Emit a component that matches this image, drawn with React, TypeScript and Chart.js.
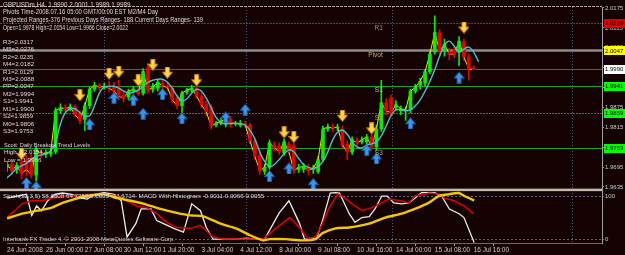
import React, { useEffect, useRef } from 'react';
import { Chart, registerables } from 'chart.js';

Chart.register(...registerables);

// ---------------- data ----------------
const opens = [
  1.9694, 1.9703, 1.9688, 1.9712, 1.9718, 1.9724, 1.9671, 1.9741, 1.9733, 1.9735,
  1.9741, 1.9865, 1.9874, 1.9871, 1.9877, 1.9856, 1.9839, 1.9880, 1.9930, 1.9942,
  1.9936, 1.9939, 1.9936, 1.9930, 1.9912, 1.9906, 1.9924, 1.9930, 1.9918, 1.9995,
  1.9930, 1.9933, 1.9948, 1.9939, 1.9933, 1.9903, 1.9880, 1.9921, 1.9927, 1.9933,
  1.9909, 1.9886, 1.9877, 1.9822, 1.9827, 1.9825, 1.9839, 1.9825, 1.9822, 1.9827,
  1.9822, 1.9774, 1.9730, 1.9682, 1.9694, 1.9762, 1.9759, 1.9738, 1.9765, 1.9759,
  1.9688, 1.9688, 1.9694, 1.9688, 1.9682, 1.9718, 1.9810, 1.9816, 1.9813, 1.9810,
  1.9765, 1.9741, 1.9774, 1.9771, 1.9771, 1.9786, 1.9756, 1.9810, 1.9889, 1.9903,
  1.9874, 1.9865, 1.9865, 1.9868, 1.9924, 1.9942, 1.9948, 1.9983, 2.0042, 2.0101,
  2.0054, 2.0042, 2.0048, 2.0042, 2.0072, 2.0027, 1.9990,
];
const highs = [
  1.9712, 1.9712, 1.9709, 1.9727, 1.9730, 1.9735, 1.9756, 1.9750, 1.9747, 1.9750,
  1.9874, 1.9886, 1.9883, 1.9886, 1.9883, 1.9865, 1.9889, 1.9936, 1.9951, 1.9948,
  1.9948, 1.9954, 1.9951, 1.9957, 1.9924, 1.9930, 1.9939, 1.9936, 1.9992, 2.0007,
  1.9948, 1.9960, 1.9957, 1.9948, 1.9942, 1.9912, 1.9924, 1.9933, 1.9942, 1.9939,
  1.9918, 1.9895, 1.9883, 1.9833, 1.9842, 1.9848, 1.9848, 1.9833, 1.9836, 1.9833,
  1.9827, 1.9783, 1.9741, 1.9703, 1.9777, 1.9771, 1.9768, 1.9780, 1.9771, 1.9768,
  1.9703, 1.9706, 1.9703, 1.9700, 1.9727, 1.9819, 1.9825, 1.9825, 1.9825, 1.9819,
  1.9774, 1.9786, 1.9783, 1.9786, 1.9794, 1.9794, 1.9822, 1.9957, 1.9901, 1.9912,
  1.9895, 1.9880, 1.9877, 1.9930, 1.9945, 1.9963, 1.9989, 2.0045, 2.0151, 2.0110,
  2.0081, 2.0054, 2.0060, 2.0089, 2.0081, 2.0036, 2.0001,
];
const lows = [
  1.9682, 1.9673, 1.9676, 1.9659, 1.9668, 1.9662, 1.9653, 1.9724, 1.9724, 1.9727,
  1.9735, 1.9856, 1.9862, 1.9865, 1.9848, 1.9825, 1.9806, 1.9871, 1.9924, 1.9927,
  1.9930, 1.9924, 1.9915, 1.9898, 1.9892, 1.9898, 1.9918, 1.9912, 1.9912, 1.9918,
  1.9921, 1.9924, 1.9930, 1.9927, 1.9889, 1.9871, 1.9859, 1.9915, 1.9921, 1.9903,
  1.9874, 1.9850, 1.9810, 1.9816, 1.9822, 1.9816, 1.9816, 1.9819, 1.9816, 1.9816,
  1.9765, 1.9718, 1.9673, 1.9673, 1.9688, 1.9744, 1.9733, 1.9730, 1.9735, 1.9676,
  1.9679, 1.9679, 1.9673, 1.9676, 1.9676, 1.9712, 1.9803, 1.9803, 1.9806, 1.9753,
  1.9718, 1.9733, 1.9759, 1.9765, 1.9762, 1.9750, 1.9747, 1.9803, 1.9853, 1.9850,
  1.9865, 1.9853, 1.9836, 1.9859, 1.9918, 1.9930, 1.9939, 1.9977, 2.0036, 2.0036,
  2.0030, 2.0019, 2.0025, 2.0001, 2.0016, 1.9957, 1.9989,
];
const closes = [
  1.9703, 1.9685, 1.9700, 1.9676, 1.9688, 1.9671, 1.9750, 1.9733, 1.9738, 1.9741,
  1.9865, 1.9874, 1.9871, 1.9877, 1.9853, 1.9836, 1.9880, 1.9930, 1.9942, 1.9936,
  1.9939, 1.9933, 1.9924, 1.9909, 1.9903, 1.9924, 1.9930, 1.9918, 1.9983, 1.9927,
  1.9936, 1.9951, 1.9939, 1.9936, 1.9898, 1.9880, 1.9918, 1.9927, 1.9933, 1.9909,
  1.9883, 1.9862, 1.9819, 1.9827, 1.9833, 1.9839, 1.9825, 1.9827, 1.9827, 1.9822,
  1.9774, 1.9727, 1.9685, 1.9694, 1.9768, 1.9753, 1.9741, 1.9771, 1.9741, 1.9685,
  1.9694, 1.9697, 1.9685, 1.9691, 1.9718, 1.9810, 1.9816, 1.9813, 1.9816, 1.9762,
  1.9741, 1.9777, 1.9768, 1.9777, 1.9786, 1.9756, 1.9810, 1.9889, 1.9865, 1.9859,
  1.9883, 1.9871, 1.9868, 1.9924, 1.9936, 1.9954, 1.9983, 2.0036, 2.0101, 2.0045,
  2.0066, 2.0036, 2.0036, 2.0075, 2.0027, 1.9992, 1.9989,
];

const timeLabelBars = [0, 8, 16, 24, 32, 40, 48, 56, 64, 72, 80, 88, 96];
const timeLabels = [
  '24 Jun 2008', '26 Jun 00:00', '27 Jun 08:00', '30 Jun 12:00', '1 Jul 20:00', '3 Jul 04:00',
  '4 Jul 12:00', '8 Jul 00:00', '9 Jul 08:00', '10 Jul 16:00', '14 Jul 00:00', '15 Jul 08:00', '16 Jul 16:00',
];
const gridBars = [20, 49.2, 79.2, 116.3];

const priceTicks = [2.0175, 2.0115, 2.0055, 1.9995, 1.9935, 1.9875, 1.9815, 1.9755, 1.9695, 1.9635];
const oscTicks = [0, 100];

const cyanBars = [
  0, 1, 2, 4, 5, 6, 8, 9, 10, 11, 12, 13, 14, 15, 16, 17, 18, 19, 20, 22, 23, 24, 25, 26, 27, 28, 29,
  30, 31, 32, 33, 34, 35, 36, 37, 38, 39, 40, 41, 42, 43, 44, 45, 46, 47, 48, 49, 50, 51, 52, 53,
  54, 55, 56, 57, 58, 59, 60, 61, 62, 63, 64, 65, 66, 67, 68, 69, 70, 71, 72, 73, 74, 75, 76, 77,
  78, 79, 80, 81, 82, 83, 84, 85, 86, 87, 88, 89, 90, 91, 92, 93, 94, 95, 96, 97,
];
const cyanValues = [
  1.9662, 1.9676, 1.9691, 1.9706, 1.9718, 1.9727, 1.9735, 1.9744, 1.9771, 1.9825, 1.9859, 1.9871,
  1.9871, 1.9859, 1.9850, 1.9850, 1.9880, 1.9918, 1.9936, 1.9939, 1.9933, 1.9924, 1.9918, 1.9921,
  1.9927, 1.9939, 1.9951, 1.9957, 1.9960, 1.9960, 1.9951, 1.9933, 1.9909, 1.9895, 1.9901, 1.9918,
  1.9930, 1.9924, 1.9903, 1.9874, 1.9845, 1.9830, 1.9825, 1.9827, 1.9827, 1.9825, 1.9822, 1.9806,
  1.9780, 1.9741, 1.9712, 1.9697, 1.9703, 1.9718, 1.9735, 1.9747, 1.9741, 1.9721, 1.9703, 1.9694,
  1.9691, 1.9697, 1.9712, 1.9741, 1.9777, 1.9800, 1.9806, 1.9794, 1.9771, 1.9756, 1.9753, 1.9762,
  1.9765, 1.9771, 1.9789, 1.9819, 1.9850, 1.9868, 1.9868, 1.9865, 1.9868, 1.9880, 1.9898, 1.9924,
  1.9954, 1.9989, 2.0030, 2.0063, 2.0075, 2.0060, 2.0042, 2.0051, 2.0057, 2.0042, 2.0013,
];

const downArrowBars = [3, 15, 21, 23, 27, 30, 33, 39, 57, 59, 69, 75, 94];
const downArrowValues = [
  1.9735, 1.9912, 1.9977, 1.9983, 1.9957, 2.0004, 1.9980, 1.9957, 1.9800, 1.9786, 1.9850, 1.9812, 2.0116,
];
const upArrowBars = [4, 6, 17, 22, 26, 28, 32, 36, 45, 49, 54, 58, 63, 74, 76, 83, 93];
const upArrowValues = [
  1.9647, 1.9635, 1.9824, 1.9904, 1.9898, 1.9856, 1.9915, 1.9842, 1.9845, 1.9868, 1.9668, 1.9691,
  1.9644, 1.9747, 1.9721, 1.9827, 1.9965,
];

const levelValues = [2.0129, 2.0047, 1.999, 1.9941, 1.9859, 1.9753];
const levelNames = ['R1', 'Pivot', '', 'S1', 'S2', 'S3'];

const whiteBars = [
  0, 4, 5.1, 6.1, 7.1, 8.4, 9.8, 11.4, 13.3, 15.3, 16.5, 18, 20, 22, 23.5, 24.7, 26.5, 27.6, 29.6,
  30.8, 32.2, 34.3, 36.3, 38, 39.8, 41, 42.4, 44.5, 47.1, 49.2, 51.2, 53, 56, 58, 60.2, 61.2, 62.9,
  63.9, 64.9, 66.5, 67.6, 68.4, 70.4, 71.6, 73, 74.5, 75.7, 77.1, 78.2, 79.6, 81.2, 82.7, 83.9, 85.3,
  88, 89.4, 91, 93, 94, 96.1,
];
const whiteValues = [
  95, 104, 55, 77, 66, 89, 104, 107, 104, 95, 93, 104, 108, 104, 89, 5, 36, 70, 70, 43, 36, 25, 16,
  82, 66, 27, 0, 0, 0, 2, 0, 0, 61, 89, 36, 0, 0, 9, 43, 107, 108, 107, 59, 39, 50, 52, 70, 100, 100,
  84, 82, 84, 95, 108, 108, 100, 70, 59, 50, -8,
];
const redBars = [
  0, 1.6, 3.1, 5.1, 7.1, 9.2, 11.8, 14.5, 17.3, 20, 22.7, 24.7, 26.7, 28.8, 30.8, 32.9, 34.9, 37.8,
  39.8, 41, 42.4, 44.5, 47.1, 50.6, 52.7, 55.3, 58.2, 60.2, 61.8, 63.5, 64.9, 66.3, 68, 69, 71, 73.1,
  75.1, 77.1, 78.6, 81, 82.7, 83.9, 87, 89, 90, 92, 94, 96,
];
const redValues = [
  50, 66, 82, 89, 89, 95, 100, 100, 104, 104, 100, 89, 77, 73, 59, 39, 27, 25, 32, 20, 5, 0, 0, 0, 0,
  25, 50, 27, 2, 5, 36, 73, 104, 100, 82, 66, 73, 84, 93, 89, 84, 100, 107, 104, 95, 89, 77, 59,
];
const goldBars = [
  0, 3.1, 6.3, 9.2, 11.4, 13.9, 16.5, 20, 22.7, 25.5, 28.2, 31.6, 34.9, 37.8, 40.4, 43.9, 47.1, 50,
  52.7, 54, 57.3, 60.8, 63.5, 64.9, 67.6, 70.4, 74.5, 77.8, 81.2, 83.9, 86.7, 88.8, 90.8, 92.9, 94.1, 96.1,
];
const goldValues = [
  48, 59, 66, 73, 84, 93, 100, 104, 95, 89, 82, 70, 61, 55, 53, 36, 25, 9, -3, 0, 0, -3, 0, 14, 25,
  27, 36, 50, 59, 70, 84, 100, 104, 107, 100, 90,
];

const headerLines = [
  'GBPUSDm,H4  1.9990 2.0001 1.9989 1.9989',
  'Pivots Time-2008.07.16 05:00 GMT/00:00 EST M2/M4 Day',
  'Projected Ranges-376 Previous Days Ranges- 188 Current Days Ranges- 139',
  'Open=1.9978 High=2.0154 Low=1.9966 Close=2.0022',
];
const pivotLines = [
  'R3=2.0317', 'M5=2.0276', 'R2=2.0235', 'M4=2.0182', 'R1=2.0129', 'M3=2.0088', 'PP=2.0047',
  'M2=1.9994', 'S1=1.9941', 'M1=1.9900', 'S2=1.9859', 'M0=1.9806', 'S3=1.9753',
];
const trendLines = ['Scott: Daily Breakout Trend Levels', 'High = 2.0154', 'Low = 1.9966'];
const oscHeader = 'Stoch(12,3,5) 58.6808 64.7252 0.0000 -33.6714  MACD With Histogram -0.0011 0.0066 0.0055';
const copyright = 'Interbank FX Trader 4, \u00a9 2001-2008 MetaQuotes Software Corp.';

// ---------------- styles ----------------
const BG = '#150303';
const FONT = '"Liberation Sans", Arial, sans-serif';
const BULL = '#00f000';
const BEAR = '#e80000';
const levelColors = ['#8a2a2a', '#8c8c8c', '#3e6470', '#22a022', '#1f7f6a', '#22a022'];
const levelWidths = [1, 2.5, 1, 1, 1, 1];
const levelDashes: number[][] = [[2, 1], [], [], [], [2, 1], []];
const levelLabelColors = ['#a08a8a', '#c8b448', '', '#c0c0c0', '#b0a060', '#a0a0a0'];
const boxColors = ['#e00000', '#ffff00', '#ffffff', '#00ff00', '#00ff00', '#00ff00'];

function makeArrow(down: boolean, fill: string, edge: string) {
  const c = document.createElement('canvas');
  c.width = 11;
  c.height = 12;
  const g = c.getContext('2d')!;
  g.beginPath();
  if (down) {
    g.moveTo(3.5, 0.5); g.lineTo(7.5, 0.5); g.lineTo(7.5, 5.5); g.lineTo(10.5, 5.5);
    g.lineTo(5.5, 11.5); g.lineTo(0.5, 5.5); g.lineTo(3.5, 5.5);
  } else {
    g.moveTo(5.5, 0.5); g.lineTo(10.5, 6.5); g.lineTo(7.5, 6.5); g.lineTo(7.5, 11.5);
    g.lineTo(3.5, 11.5); g.lineTo(3.5, 6.5); g.lineTo(0.5, 6.5);
  }
  g.closePath();
  g.fillStyle = fill;
  g.fill();
  g.strokeStyle = edge;
  g.lineWidth = 1;
  g.stroke();
  return c;
}

function txt(ctx: CanvasRenderingContext2D, s: string, x: number, y: number, color: string, size: number, maxW?: number, align: CanvasTextAlign = 'left') {
  ctx.font = `${size}px ${FONT}`;
  ctx.fillStyle = color;
  ctx.textBaseline = 'middle';
  ctx.textAlign = align;
  if (maxW) ctx.fillText(s, x, y, maxW);
  else ctx.fillText(s, x, y);
}

const overlay = {
  id: 'mt4overlay',
  beforeDatasetsDraw(chart: any) {
    const { ctx, chartArea: ca, scales } = chart;
    const xs = scales.x;
    const ys = scales.y;
    ctx.save();
    ctx.strokeStyle = '#4c5c80';
    ctx.lineWidth = 1;
    ctx.setLineDash([1, 2]);
    gridBars.forEach((b) => {
      const px = Math.round(xs.getPixelForValue(b)) + 0.5;
      ctx.beginPath();
      ctx.moveTo(px, ca.top);
      ctx.lineTo(px, ca.bottom);
      ctx.stroke();
    });
    levelValues.forEach((v, i) => {
      const py = Math.round(ys.getPixelForValue(v)) + 0.5;
      ctx.strokeStyle = levelColors[i];
      ctx.lineWidth = levelWidths[i];
      ctx.setLineDash(levelDashes[i]);
      ctx.beginPath();
      ctx.moveTo(0, py);
      ctx.lineTo(ca.right, py);
      ctx.stroke();
    });
    ctx.setLineDash([3, 1]);
    ctx.strokeStyle = '#bca4a4';
    ctx.lineWidth = 1;
    ctx.beginPath();
    ctx.moveTo(0, ca.top - 0.5);
    ctx.lineTo(ca.right, ca.top - 0.5);
    ctx.stroke();
    ctx.restore();
  },
  afterDatasetsDraw(chart: any) {
    const { ctx, scales } = chart;
    const xs = scales.x;
    const ys = scales.y;
    ctx.save();
    const lx = xs.getPixelForValue(77.3);
    levelValues.forEach((v, i) => {
      if (!levelNames[i]) return;
      const py = ys.getPixelForValue(v) + 5;
      txt(ctx, levelNames[i], lx, py, levelLabelColors[i], 6.5, undefined, 'right');
    });
    ctx.restore();
  },
  afterDraw(chart: any) {
    const { ctx, chartArea: ca, scales } = chart;
    const ys = scales.y;
    const y2 = scales.y2;
    ctx.save();
    ctx.fillStyle = '#c2bab0';
    ctx.fillRect(0, y2.top - 0.5, ca.right, 2.5);
    levelValues.forEach((v, i) => {
      const py = ys.getPixelForValue(v);
      ctx.fillStyle = boxColors[i];
      ctx.fillRect(ca.right + 2, Math.round(py) - 4, 21, 9);
      txt(ctx, v.toFixed(4), ca.right + 3, py + 0.5, '#000000', 6, 19);
    });
    const widths = [133, 155, 200, 125];
    headerLines.forEach((s, i) => txt(ctx, s, 3, 5 + i * 7.6, '#dedede', 6.3, widths[i]));
    pivotLines.forEach((s, i) => txt(ctx, s, 3, 42 + i * 7.45, '#dedede', 6.2));
    const tw = [86, 40, 40];
    trendLines.forEach((s, i) => txt(ctx, s, 4, 145 + i * 7.5, '#dedede', 6.2, tw[i]));
    txt(ctx, oscHeader, 3, 196, '#dedede', 6.2, 275);
    txt(ctx, copyright, 3, 239, '#d4d4d4', 6.2, 172);
    ctx.restore();
  },
};

export default function App() {
  const ref = useRef<HTMLCanvasElement>(null);
  useEffect(() => {
    const up = makeArrow(false, '#3a96e6', '#1a5fa8');
    const down = makeArrow(true, '#ffd850', '#d88a00');
    const bodyColors = opens.map((o, i) => (closes[i] >= o ? BULL : BEAR));
    const chart = new Chart(ref.current!, {
      type: 'bar',
      data: {
        datasets: [
          {
            type: 'bar',
            label: 'wicks',
            data: lows.map((l, i) => ({ x: i, y: [l, highs[i]] })) as any,
            backgroundColor: bodyColors,
            barThickness: 1,
            grouped: false,
            borderWidth: 0,
            yAxisID: 'y',
            order: 7,
          } as any,
          {
            type: 'line',
            label: 'fast',
            data: closes.map((c, i) => ({ x: i, y: c })),
            borderColor: '#f0ec00',
            borderWidth: 1,
            pointRadius: 0,
            tension: 0,
            yAxisID: 'y',
            order: 6,
          },
          {
            type: 'bar',
            label: 'bodies',
            data: opens.map((o, i) => ({ x: i, y: [o, closes[i]] })) as any,
            backgroundColor: bodyColors,
            barThickness: 3,
            minBarLength: 1,
            grouped: false,
            borderWidth: 0,
            yAxisID: 'y',
            order: 5,
          } as any,
          {
            type: 'line',
            label: 'slow',
            data: cyanBars.map((b, i) => ({ x: b, y: cyanValues[i] })),
            borderColor: '#44c4cc',
            borderWidth: 1.4,
            pointRadius: 0,
            tension: 0.3,
            yAxisID: 'y',
            order: 3,
          },
          {
            type: 'line',
            label: 'down',
            data: downArrowBars.map((b, i) => ({ x: b, y: downArrowValues[i] })),
            showLine: false,
            pointStyle: down as any,
            pointRadius: 6,
            yAxisID: 'y',
            order: 1,
          },
          {
            type: 'line',
            label: 'up',
            data: upArrowBars.map((b, i) => ({ x: b, y: upArrowValues[i] })),
            showLine: false,
            pointStyle: up as any,
            pointRadius: 6,
            yAxisID: 'y',
            order: 1,
          },
          {
            type: 'line',
            label: 'signal',
            data: goldBars.map((b, i) => ({ x: b, y: goldValues[i] })),
            borderColor: '#f2c800',
            borderWidth: 2.4,
            pointRadius: 0,
            tension: 0.2,
            yAxisID: 'y2',
            order: 2,
          },
          {
            type: 'line',
            label: 'red',
            data: redBars.map((b, i) => ({ x: b, y: redValues[i] })),
            borderColor: '#e00000',
            borderWidth: 1.5,
            pointRadius: 0,
            tension: 0,
            yAxisID: 'y2',
            order: 2,
          },
          {
            type: 'line',
            label: 'white',
            data: whiteBars.map((b, i) => ({ x: b, y: whiteValues[i] })),
            borderColor: '#ececec',
            borderWidth: 1.3,
            pointRadius: 0,
            tension: 0,
            yAxisID: 'y2',
            order: 2,
          },
        ],
      },
      options: {
        animation: false,
        responsive: false,
        maintainAspectRatio: false,
        events: [],
        layout: { padding: { left: 2, top: 2, right: 0, bottom: 0 } },
        plugins: { legend: { display: false }, tooltip: { enabled: false } },
        scales: {
          x: {
            type: 'linear',
            min: 0,
            max: 122.4,
            offset: false,
            position: 'bottom',
            afterBuildTicks: (s: any) => {
              s.ticks = timeLabelBars.map((v) => ({ value: v }));
            },
            afterFit: (s: any) => {
              s.height = 12;
            },
            ticks: {
              autoSkip: false,
              maxRotation: 0,
              minRotation: 0,
              align: 'start',
              padding: 0,
              color: '#cccccc',
              font: { size: 6.5, family: FONT },
              callback: (v: any) => {
                const k = timeLabelBars.indexOf(Number(v));
                return k >= 0 ? timeLabels[k] : '';
              },
            },
            grid: { drawOnChartArea: false, drawTicks: true, tickLength: 3, color: '#a0a0a0' },
            border: { display: true, color: '#5a6a98' },
          },
          y: {
            type: 'linear',
            position: 'right',
            stack: 'pane',
            stackWeight: 186,
            min: 1.96285,
            max: 2.0178,
            afterBuildTicks: (s: any) => {
              s.ticks = priceTicks.map((v) => ({ value: v }));
            },
            afterFit: (s: any) => {
              s.width = 23;
            },
            ticks: {
              padding: 1,
              color: '#cccccc',
              font: { size: 6, family: FONT },
              callback: (v: any) => Number(v).toFixed(4),
            },
            grid: { drawOnChartArea: false, drawTicks: true, tickLength: 2, color: '#a0a0a0' },
            border: { display: true, color: '#a0a0a0' },
          },
          y2: {
            type: 'linear',
            position: 'right',
            stack: 'pane',
            stackWeight: 55,
            min: -9,
            max: 116,
            afterBuildTicks: (s: any) => {
              s.ticks = oscTicks.map((v) => ({ value: v }));
            },
            afterFit: (s: any) => {
              s.width = 23;
            },
            ticks: {
              padding: 1,
              color: '#cccccc',
              font: { size: 6, family: FONT },
              callback: (v: any) => String(v),
            },
            grid: { drawOnChartArea: true, drawTicks: true, tickLength: 2, color: '#56668e' },
            border: { display: true, color: '#a0a0a0', dash: [2, 2] },
          },
        },
      } as any,
      plugins: [overlay],
    });
    return () => chart.destroy();
  }, []);
  return (
    <div style={{ position: 'fixed', left: 0, top: 0, width: 625, height: 255, background: BG }}>
      <canvas ref={ref} width={625} height={255} style={{ display: 'block', width: 625, height: 255 }} />
    </div>
  );
}
